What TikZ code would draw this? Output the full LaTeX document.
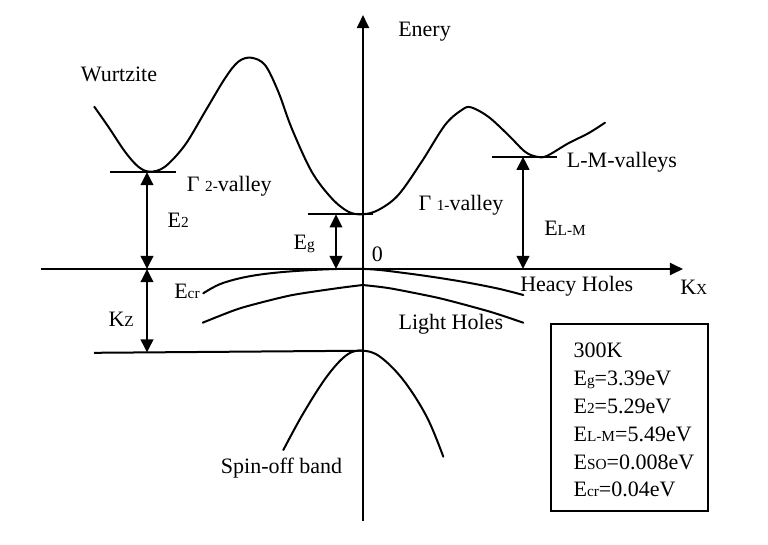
\documentclass[tikz,border=0pt]{standalone}
\usepackage{fontspec}
\setmainfont{Liberation Serif}
\usetikzlibrary{arrows.meta}
\newcommand\sbs[1]{{\fontsize{11.5}{12}\selectfont #1}}
\begin{document}
\begin{tikzpicture}[x=0.75pt,y=-0.75pt,
  font=\fontsize{16.5}{18}\selectfont,
  band/.style={line width=1.5pt, line join=round, line cap=round},
  axisline/.style={line width=1.5pt, -{Triangle[length=9.8pt,width=9pt]}},
  lvl/.style={line width=1.5pt},
  dim/.style={line width=1.5pt, {Triangle[length=9.8pt,width=9.4pt]}-{Triangle[length=9.8pt,width=9.4pt]}},
  lbl/.style={inner sep=0pt, anchor=base west}]
\useasboundingbox (0,0) rectangle (768,544);

% axes
\coordinate (yb) at (363,521);
\coordinate (yt) at (363,15);
\coordinate (xl) at (41,269);
\coordinate (xr) at (683,269);
\draw[axisline] (yb) -- (yt);
\draw[axisline] (xl) -- (xr);

% conduction band
\draw[band] plot[smooth, tension=0.55] coordinates {
 (94.3,106.7) (108.3,126.7) (125,151.7) (138.3,166.7) (150,171.7)
 (165,166.7) (185,145) (205,111.7) (225,78.3) (238.3,61.7) (251,57.7)
 (265,65) (278.3,91.7) (291.7,128.3) (311.7,171.7) (331.7,198.3) (348.3,211.7)
 (362.5,214.3) (378.3,210) (398.3,195) (421.7,161.7) (445,125) (461.7,110)
 (471,107.3) (488.3,116.7) (508.3,135) (525,151.7) (536.7,156.7) (546.7,156)
 (568.3,143.3) (588.3,133.3) (605,122.7)};

% level lines
\coordinate (g2l) at (110,172); \coordinate (g2r) at (175.5,172);
\coordinate (g1l) at (308,214.3); \coordinate (g1r) at (373,214.3);
\coordinate (lml) at (492,156.7); \coordinate (lmr) at (557,156.7);
\draw[lvl] (g2l) -- (g2r);
\draw[lvl] (g1l) -- (g1r);
\draw[lvl] (lml) -- (lmr);

% dimension arrows
\coordinate (e2t) at (147,172); \coordinate (e2b) at (147,269);
\coordinate (kzb) at (147,352.5);
\coordinate (egt) at (336,214.3); \coordinate (egb) at (336,269);
\coordinate (elt) at (523,156.7); \coordinate (elb) at (523,269);
\draw[dim] (e2t) -- (e2b);
\draw[dim] (e2b) -- (kzb);
\draw[dim] (egt) -- (egb);
\draw[dim] (elt) -- (elb);

% valence bands
\draw[band] plot[smooth, tension=0.6] coordinates {
 (203.3,293.3) (223,283) (257,275) (306.7,270.3) (362.7,268.9)
 (406.7,273.3) (456.7,280.7) (496.7,288.3) (523.3,295)};
\draw[band] plot[smooth, tension=0.4] coordinates {
 (202.7,322.7) (240,308.3) (290,295.5) (336.7,288.3) (362.7,285)};
\draw[band] plot[smooth, tension=0.4] coordinates {
 (362.7,285) (390,288.3) (440,298.3) (490,311.7) (523.3,322.7)};
\coordinate (kzl) at (94,352.8); \coordinate (kzr) at (362.7,350.7);
\draw[lvl] (kzl) -- (kzr);
\draw[band] plot[smooth, tension=0.6] coordinates {
 (283.3,450) (303.3,413.3) (326.7,376.7) (346.7,355) (362.7,350.7)
 (380,356.7) (403.3,380) (426.7,416.7) (443.3,456.7)};

% labels
\node[lbl] (wz) at (80.7,81.7) {Wurtzite};
\node[lbl] (en) at (398,36.7) {Enery};
\node[lbl] (g2) at (186.7,191.7) {Γ \sbs{2-}valley};
\node[lbl] (e2) at (167.3,227.7) {E\sbs{2}};
\node[lbl] (eg) at (293.3,249) {E\sbs{g}};
\node[lbl] (zero) at (371.7,261.7) {0};
\node[lbl] (g1) at (418.3,210.7) {Γ \sbs{1-}valley};
\node[lbl] (lm) at (566.7,167.3) {L-M-valleys};
\node[lbl] (elm) at (544,235.7) {E\sbs{L-M}};
\node[lbl] (hh) at (520,291.7) {Heacy Holes};
\node[lbl] (kx) at (680,294) {K\sbs{X}};
\node[lbl] (ecr) at (174,298.3) {E\sbs{cr}};
\node[lbl] (kz) at (108.3,326) {K\sbs{Z}};
\node[lbl] (lh) at (398.3,329.3) {Light Holes};
\node[lbl] (so) at (220.7,473.3) {Spin-off band};

% parameter box
\node[draw, line width=1.5pt, inner sep=0pt, anchor=north west,
      minimum width=117.75pt, minimum height=140.25pt] (box) at (550,323) {};
\node[lbl] (t1) at (573.3,357) {300K};
\node[lbl] (t2) at (573.3,385.5) {E\sbs{g}=3.39eV};
\node[lbl] (t3) at (573.3,413.5) {E\sbs{2}=5.29eV};
\node[lbl] (t4) at (573.3,441.3) {E\sbs{L-M}=5.49eV};
\node[lbl] (t5) at (573.3,469.2) {E\sbs{SO}=0.008eV};
\node[lbl] (t6) at (573.3,496.8) {E\sbs{cr}=0.04eV};
\end{tikzpicture}
\end{document}
